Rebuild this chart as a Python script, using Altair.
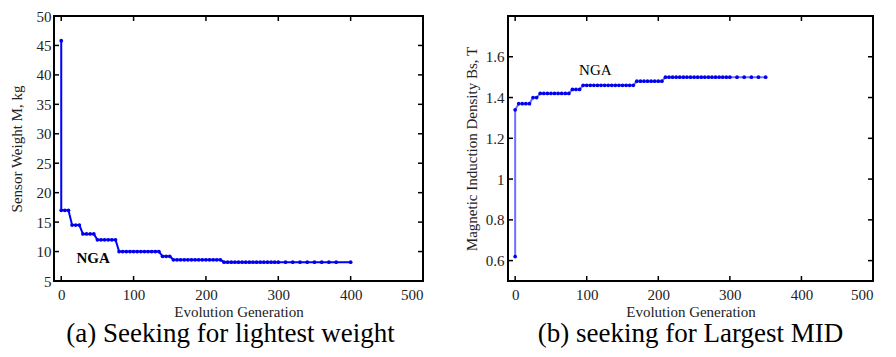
import altair as alt
import pandas as pd

# ---- data ----
gen_a = [0] + list(range(0, 305, 5)) + [310, 320, 330, 340, 350, 360, 370, 380, 400]
weight_a = [45.8,
            17.0, 17.0, 17.0,
            14.5, 14.5, 14.5,
            13.0, 13.0, 13.0, 13.0,
            12.0, 12.0, 12.0, 12.0, 12.0, 12.0,
            10.0, 10.0, 10.0, 10.0, 10.0, 10.0, 10.0, 10.0, 10.0, 10.0, 10.0, 10.0,
            9.2, 9.2, 9.2,
            8.6, 8.6, 8.6, 8.6, 8.6, 8.6, 8.6, 8.6, 8.6, 8.6, 8.6, 8.6, 8.6, 8.6,
            8.2, 8.2, 8.2, 8.2, 8.2, 8.2, 8.2, 8.2, 8.2, 8.2, 8.2, 8.2, 8.2, 8.2,
            8.2, 8.2, 8.2, 8.2, 8.2, 8.2, 8.2, 8.2, 8.2, 8.2, 8.2]

gen_b = [0] + list(range(0, 305, 5)) + [310, 320, 330, 340, 350]
mid_b = [0.62,
         1.34,
         1.37, 1.37, 1.37, 1.37,
         1.40, 1.40,
         1.42, 1.42, 1.42, 1.42, 1.42, 1.42, 1.42, 1.42, 1.42,
         1.44, 1.44, 1.44,
         1.46, 1.46, 1.46, 1.46, 1.46, 1.46, 1.46, 1.46, 1.46, 1.46, 1.46, 1.46, 1.46, 1.46, 1.46,
         1.48, 1.48, 1.48, 1.48, 1.48, 1.48, 1.48, 1.48,
         1.50, 1.50, 1.50, 1.50, 1.50, 1.50, 1.50, 1.50, 1.50, 1.50, 1.50, 1.50,
         1.50, 1.50, 1.50, 1.50, 1.50, 1.50, 1.50, 1.50, 1.50, 1.50, 1.50, 1.50]

x_ticks = [0, 100, 200, 300, 400, 500]
y_ticks_a = [5, 10, 15, 20, 25, 30, 35, 40, 45, 50]
y_ticks_b = [0.6, 0.8, 1.0, 1.2, 1.4, 1.6]

caption_a = "(a) Seeking for lightest weight"
caption_b = "(b) seeking for Largest MID"
xtitle = "Evolution Generation"
ytitle_a = "Sensor Weight M, kg"
ytitle_b = "Magnetic Induction Density Bs, T"

FONT = "Liberation Serif"
W_A, W_B, H = 369, 365, 265
TL = 5

def panel(gens, vals, ydom, yticks, ytitle, caption, width, line_color,
          label_pos, bold, lab_pad, title_pad, cap_dx):
    df = pd.DataFrame({"g": gens, "v": vals, "i": list(range(len(gens)))})
    xs = alt.Scale(domain=[-10, 500], nice=False, zero=False)
    ys = alt.Scale(domain=ydom, nice=False, zero=False)
    ax = alt.Axis(values=x_ticks, labelPadding=6, titlePadding=2, labelOverlap=False)
    ay = alt.Axis(values=yticks, labelPadding=lab_pad, titlePadding=title_pad,
                  labelOverlap=False, format="~g")

    def X(f):
        return alt.X(f, scale=xs, axis=ax, title=xtitle)

    def Y(f):
        return alt.Y(f, scale=ys, axis=ay, title=ytitle)

    base = alt.Chart(df)
    line = base.mark_line(color=line_color, strokeWidth=2).encode(
        x=X("g:Q"), y=Y("v:Q"), order="i:Q")
    pts = base.mark_circle(color="#0000ee", size=14, opacity=1).encode(
        x=X("g:Q"), y=Y("v:Q"))
    lab = alt.Chart(pd.DataFrame({"g": [label_pos[0]], "v": [label_pos[1]], "t": ["NGA"]})).mark_text(
        font=FONT, fontSize=15, fontWeight="bold" if bold else "normal", color="black"
    ).encode(x=X("g:Q"), y=Y("v:Q"), text="t:N")
    xt = alt.Chart(pd.DataFrame({"t": x_ticks}))
    yt = alt.Chart(pd.DataFrame({"t": yticks}))
    top = xt.mark_rule(color="black", strokeWidth=1.5).encode(
        x=X("t:Q"), y=alt.value(0), y2=alt.value(TL))
    bot = xt.mark_rule(color="black", strokeWidth=1.5).encode(
        x=X("t:Q"), y=alt.value(H), y2=alt.value(H - TL))
    lft = yt.mark_rule(color="black", strokeWidth=1.5).encode(
        y=Y("t:Q"), x=alt.value(0), x2=alt.value(TL))
    rgt = yt.mark_rule(color="black", strokeWidth=1.5).encode(
        y=Y("t:Q"), x=alt.value(width), x2=alt.value(width - TL))
    return alt.layer(line, pts, lab, top, bot, lft, rgt).properties(
        width=width, height=H,
        title=alt.TitleParams(caption, orient="bottom", font=FONT, fontSize=27,
                              fontWeight="normal", color="black", offset=2, dx=cap_dx),
    )

a = panel(gen_a, weight_a, [5, 50], y_ticks_a, ytitle_a, caption_a, W_A, "#0000ff",
          (44, 8.9), True, 3, 12, -8)
b = panel(gen_b, mid_b, [0.5, 1.8], y_ticks_b, ytitle_b, caption_b, W_B, "#6f6fff",
          (112, 1.536), False, 4, 6, 0)

chart = alt.hconcat(a, b, spacing=38).properties(
    padding={"left": 0, "top": 0, "right": 0, "bottom": 0},
    background="white",
).configure_view(stroke="black", strokeWidth=2).configure_axis(
    domain=False, ticks=False, grid=False,
    labelFont=FONT, labelFontSize=15, labelColor="#222",
    titleFont=FONT, titleFontSize=15, titleFontWeight="normal", titleColor="#222",
)

chart.save("out.html", embed_options={"renderer": "svg", "actions": False})
